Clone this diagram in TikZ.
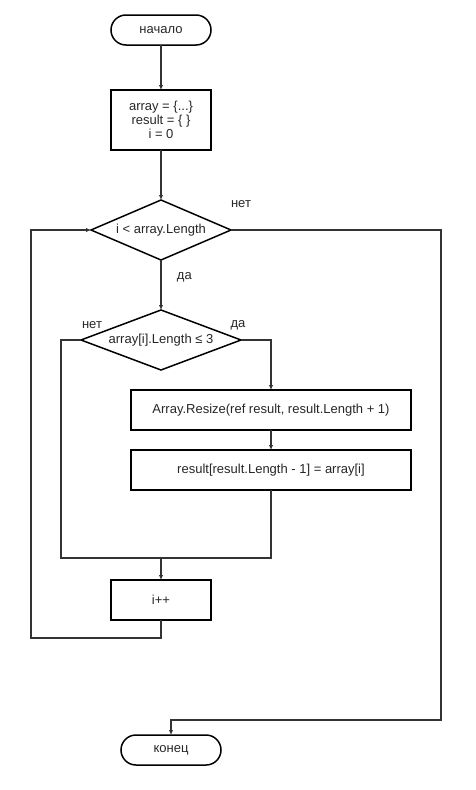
\documentclass[tikz,border=0pt]{standalone}
\usepackage{fontspec}
\setmainfont{Liberation Sans}
\usetikzlibrary{shapes.geometric, arrows.meta, positioning, calc}
\tikzset{
    terminal/.style={draw, rectangle, rounded corners=15pt, line width=1.5pt, outer sep=0pt, minimum width=100pt, minimum height=30pt, align=center, text=black!85, font=\fontsize{13}{14}\selectfont},
    stepbox/.style={draw, rectangle, line width=1.5pt, outer sep=0pt, minimum width=100pt, minimum height=40pt, align=center, text=black!85, font=\fontsize{13}{14}\selectfont},
    decision/.style={draw, diamond, line width=1.5pt, outer sep=0pt, inner sep=0pt, minimum height=60pt, align=center, text=black!85, font=\fontsize{13}{14}\selectfont},
    arrow/.style={draw, -{Latex[length=5pt, width=4.5pt]}, line width=1.2pt, color=black!80},
    line/.style={draw, line width=1.2pt, color=black!80},
    lbl/.style={text=black!85, font=\fontsize{13}{14}\selectfont}
}

\begin{document}
\begin{tikzpicture}[node distance=50pt]
    \useasboundingbox (0,0) rectangle (476pt,-790pt);
    \node [terminal] (start) at (161pt,-30pt) {начало};
    \node [stepbox, minimum height=60pt, below=45pt of start] (init) {array = \{...\}\\result = \{ \}\\i = 0};
    \node [decision, minimum width=140pt, aspect=2.33, below=of init] (cond) {i < array.Length};
    \node [decision, minimum width=160pt, aspect=2.67, below=of cond] (check) {array[i].Length ≤ 3};
    \node [stepbox, minimum width=280pt, below=20pt of check, xshift=110pt] (resize) {Array.Resize(ref result, result.Length + 1)};
    \node [stepbox, minimum width=280pt, below=20pt of resize] (assign) {result[result.Length - 1] = array[i]};
    \node [stepbox, below=210pt of check] (inc) {i++};
    \node [terminal, below=115pt of inc, xshift=10pt] (stop) {конец};

    \coordinate (merge) at ($(inc.north)+(0,22pt)$);
    \coordinate (exit) at ($(stop.north)+(0,15pt)$);

    \draw [arrow] (start) -- (init);
    \draw [arrow] (init) -- (cond);
    \draw [arrow] (cond) -- node [lbl, right=12pt, pos=0.35] {да} (check);
    \draw [arrow] (check.east) node [lbl, shift={(-3pt,15pt)}] {да} -| (resize);
    \draw [arrow] (resize) -- (assign);
    \draw [line] (assign.south) |- (merge);
    \draw [line] (check.west) node [lbl, shift={(11pt,15pt)}] {нет} -- ++(-20pt,0) |- (merge);
    \draw [arrow] (merge) -- (inc);
    \draw [arrow] (inc.south) -- ++(0,-18pt) -- ++(-130pt,0) |- (cond.west);
    \draw [arrow] (cond.east) node [lbl, shift={(10pt,26pt)}] {нет} -- ++(210pt,0) |- (exit) -- (stop);
\end{tikzpicture}
\end{document}
